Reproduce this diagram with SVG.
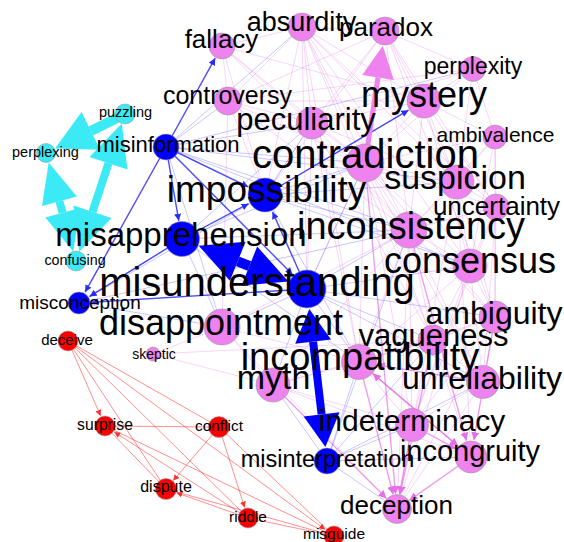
<svg xmlns="http://www.w3.org/2000/svg" width="564" height="542" viewBox="0 0 564 542">
<defs>
<style>
.pe line{stroke:#e27ee2;stroke-opacity:.32;stroke-width:1}
.pa line{stroke:#e66ee6;stroke-opacity:.7;stroke-width:1.3}
.be line{stroke:#6a5cff;stroke-opacity:.35;stroke-width:1}
.bs line{stroke:#2a2aff;stroke-opacity:.85;stroke-width:1.4}
.re line{stroke:#ff2020;stroke-opacity:.5;stroke-width:1}
.big{fill:#0000ff}
.bigs{stroke:#0000ff}
.cyb{fill:#3ceaf5}
.cys{stroke:#3ceaf5}
circle{stroke:#999;stroke-width:.6}
.pk{fill:#ee82ee}
.bl{fill:#0000ff}
.cy{fill:#3ceaf5}
.rd{fill:#ff0000}
text{font-family:"Liberation Sans",Arial,sans-serif;text-anchor:middle;fill:#000}
</style>
<marker id="mb" viewBox="0 0 10 10" refX="10" refY="5" markerWidth="7" markerHeight="7" markerUnits="userSpaceOnUse" orient="auto"><path d="M0,0L10,5L0,10z" fill="#2a2aff"/></marker>
<marker id="mp" viewBox="0 0 10 10" refX="10" refY="5" markerWidth="8" markerHeight="8" markerUnits="userSpaceOnUse" orient="auto"><path d="M0,0L10,5L0,10z" fill="#e66ee6"/></marker>
<marker id="mr" viewBox="0 0 10 10" refX="10" refY="5" markerWidth="6" markerHeight="6" markerUnits="userSpaceOnUse" orient="auto"><path d="M0,0L10,5L0,10z" fill="#ff3030"/></marker>
</defs>
<rect width="564" height="542" fill="#fff"/>
<g id="edges">
<g class="pe">
<line x1="302" y1="27" x2="222" y2="46"/><line x1="302" y1="27" x2="385" y2="31"/><line x1="302" y1="27" x2="228" y2="101"/><line x1="302" y1="27" x2="312" y2="123"/><line x1="302" y1="27" x2="365" y2="163"/><line x1="302" y1="27" x2="409" y2="230"/><line x1="302" y1="27" x2="457" y2="182"/><line x1="302" y1="27" x2="424" y2="101"/><line x1="302" y1="27" x2="359" y2="362"/><line x1="302" y1="27" x2="470" y2="266"/><line x1="302" y1="27" x2="433" y2="340"/><line x1="302" y1="27" x2="496" y2="207"/><line x1="302" y1="27" x2="265" y2="195"/><line x1="302" y1="27" x2="307" y2="289"/>
<line x1="222" y1="46" x2="228" y2="101"/><line x1="222" y1="46" x2="312" y2="123"/><line x1="222" y1="46" x2="365" y2="163"/><line x1="222" y1="46" x2="424" y2="101"/><line x1="222" y1="46" x2="409" y2="230"/><line x1="222" y1="46" x2="265" y2="195"/>
<line x1="385" y1="31" x2="473" y2="69"/><line x1="385" y1="31" x2="424" y2="101"/><line x1="385" y1="31" x2="312" y2="123"/><line x1="385" y1="31" x2="228" y2="101"/><line x1="385" y1="31" x2="409" y2="230"/><line x1="385" y1="31" x2="457" y2="182"/><line x1="385" y1="31" x2="496" y2="207"/><line x1="385" y1="31" x2="495" y2="317"/><line x1="385" y1="31" x2="265" y2="195"/>
<line x1="473" y1="69" x2="424" y2="101"/><line x1="473" y1="69" x2="365" y2="163"/><line x1="473" y1="69" x2="457" y2="182"/><line x1="473" y1="69" x2="312" y2="123"/><line x1="473" y1="69" x2="228" y2="101"/><line x1="473" y1="69" x2="495" y2="137"/>
<line x1="424" y1="101" x2="312" y2="123"/><line x1="424" y1="101" x2="365" y2="163"/><line x1="424" y1="101" x2="457" y2="182"/><line x1="424" y1="101" x2="495" y2="137"/><line x1="424" y1="101" x2="409" y2="230"/><line x1="424" y1="101" x2="496" y2="207"/><line x1="424" y1="101" x2="228" y2="101"/><line x1="424" y1="101" x2="470" y2="266"/>
<line x1="228" y1="101" x2="312" y2="123"/><line x1="228" y1="101" x2="365" y2="163"/><line x1="228" y1="101" x2="409" y2="230"/><line x1="228" y1="101" x2="222" y2="327"/><line x1="228" y1="101" x2="265" y2="195"/>
<line x1="312" y1="123" x2="365" y2="163"/><line x1="312" y1="123" x2="409" y2="230"/><line x1="312" y1="123" x2="457" y2="182"/><line x1="312" y1="123" x2="359" y2="362"/><line x1="312" y1="123" x2="433" y2="340"/><line x1="312" y1="123" x2="265" y2="195"/><line x1="312" y1="123" x2="307" y2="289"/>
<line x1="495" y1="137" x2="457" y2="182"/><line x1="495" y1="137" x2="496" y2="207"/><line x1="495" y1="137" x2="365" y2="163"/><line x1="495" y1="137" x2="470" y2="266"/><line x1="495" y1="137" x2="495" y2="317"/><line x1="495" y1="137" x2="409" y2="230"/>
<line x1="365" y1="163" x2="457" y2="182"/><line x1="365" y1="163" x2="409" y2="230"/><line x1="365" y1="163" x2="359" y2="362"/><line x1="365" y1="163" x2="470" y2="266"/><line x1="365" y1="163" x2="495" y2="317"/><line x1="365" y1="163" x2="433" y2="340"/><line x1="365" y1="163" x2="496" y2="207"/><line x1="365" y1="163" x2="412" y2="425"/><line x1="365" y1="163" x2="483" y2="382"/><line x1="365" y1="163" x2="307" y2="289"/>
<line x1="457" y1="182" x2="496" y2="207"/><line x1="457" y1="182" x2="409" y2="230"/><line x1="457" y1="182" x2="470" y2="266"/><line x1="457" y1="182" x2="397" y2="509"/><line x1="457" y1="182" x2="471" y2="457"/><line x1="457" y1="182" x2="495" y2="317"/>
<line x1="496" y1="207" x2="409" y2="230"/><line x1="496" y1="207" x2="470" y2="266"/><line x1="496" y1="207" x2="495" y2="317"/><line x1="496" y1="207" x2="483" y2="382"/><line x1="496" y1="207" x2="412" y2="425"/>
<line x1="409" y1="230" x2="470" y2="266"/><line x1="409" y1="230" x2="359" y2="362"/><line x1="409" y1="230" x2="433" y2="340"/><line x1="409" y1="230" x2="495" y2="317"/><line x1="409" y1="230" x2="483" y2="382"/><line x1="409" y1="230" x2="412" y2="425"/><line x1="409" y1="230" x2="397" y2="509"/><line x1="409" y1="230" x2="273" y2="385"/><line x1="409" y1="230" x2="222" y2="327"/>
<line x1="470" y1="266" x2="495" y2="317"/><line x1="470" y1="266" x2="433" y2="340"/><line x1="470" y1="266" x2="359" y2="362"/><line x1="470" y1="266" x2="483" y2="382"/><line x1="470" y1="266" x2="412" y2="425"/><line x1="470" y1="266" x2="397" y2="509"/>
<line x1="495" y1="317" x2="433" y2="340"/><line x1="495" y1="317" x2="483" y2="382"/><line x1="495" y1="317" x2="412" y2="425"/><line x1="495" y1="317" x2="359" y2="362"/><line x1="495" y1="317" x2="397" y2="509"/>
<line x1="433" y1="340" x2="359" y2="362"/><line x1="433" y1="340" x2="483" y2="382"/><line x1="433" y1="340" x2="412" y2="425"/><line x1="433" y1="340" x2="471" y2="457"/><line x1="433" y1="340" x2="273" y2="385"/>
<line x1="359" y1="362" x2="273" y2="385"/><line x1="359" y1="362" x2="412" y2="425"/><line x1="359" y1="362" x2="222" y2="327"/>
<line x1="222" y1="327" x2="273" y2="385"/><line x1="222" y1="327" x2="153" y2="354"/><line x1="222" y1="327" x2="397" y2="509"/>
<line x1="273" y1="385" x2="412" y2="425"/><line x1="273" y1="385" x2="471" y2="457"/>
<line x1="483" y1="382" x2="412" y2="425"/><line x1="483" y1="382" x2="397" y2="509"/>
<line x1="153" y1="354" x2="433" y2="340"/><line x1="153" y1="354" x2="273" y2="385"/>
</g>
<g class="pa">
<line x1="359" y1="362" x2="393.2" y2="494.5" marker-end="url(#mp)"/>
<line x1="412" y1="425" x2="399.6" y2="494.2" marker-end="url(#mp)"/>
<line x1="433" y1="340" x2="400.1" y2="494.3" marker-end="url(#mp)"/>
<line x1="365" y1="163" x2="395.6" y2="494.1" marker-end="url(#mp)"/>
<line x1="273" y1="385" x2="386.4" y2="498.4" marker-end="url(#mp)"/>
<line x1="471" y1="457" x2="409.3" y2="500.4" marker-end="url(#mp)"/>
<line x1="412" y1="425" x2="456.1" y2="448.9" marker-end="url(#mp)"/>
<line x1="359" y1="362" x2="458" y2="446" marker-end="url(#mp)"/>
<line x1="409" y1="230" x2="466.5" y2="440.6" marker-end="url(#mp)"/>
<line x1="495" y1="317" x2="473.9" y2="440.2" marker-end="url(#mp)"/>
<line x1="471" y1="457" x2="372.7" y2="373.6" marker-end="url(#mp)"/>
<line x1="483" y1="382" x2="376.8" y2="364.9" marker-end="url(#mp)"/>
</g>
<g class="be">
<line x1="166" y1="147" x2="365" y2="163"/><line x1="166" y1="147" x2="312" y2="123"/><line x1="166" y1="147" x2="228" y2="101"/><line x1="166" y1="147" x2="302" y2="27"/><line x1="166" y1="147" x2="473" y2="69"/><line x1="166" y1="147" x2="457" y2="182"/><line x1="166" y1="147" x2="409" y2="230"/><line x1="166" y1="147" x2="470" y2="266"/><line x1="166" y1="147" x2="222" y2="327"/>
<line x1="265" y1="195" x2="365" y2="163"/><line x1="265" y1="195" x2="409" y2="230"/><line x1="265" y1="195" x2="312" y2="123"/><line x1="265" y1="195" x2="470" y2="266"/><line x1="265" y1="195" x2="457" y2="182"/><line x1="265" y1="195" x2="359" y2="362"/>
<line x1="182" y1="239" x2="365" y2="163"/><line x1="182" y1="239" x2="409" y2="230"/><line x1="182" y1="239" x2="312" y2="123"/><line x1="182" y1="239" x2="222" y2="327"/><line x1="182" y1="239" x2="359" y2="362"/>
<line x1="307" y1="289" x2="409" y2="230"/><line x1="307" y1="289" x2="470" y2="266"/><line x1="307" y1="289" x2="495" y2="317"/><line x1="307" y1="289" x2="433" y2="340"/><line x1="307" y1="289" x2="359" y2="362"/><line x1="307" y1="289" x2="222" y2="327"/><line x1="307" y1="289" x2="365" y2="163"/><line x1="307" y1="289" x2="273" y2="385"/><line x1="307" y1="289" x2="483" y2="382"/>
<line x1="79" y1="303" x2="222" y2="327"/><line x1="79" y1="303" x2="265" y2="195"/><line x1="79" y1="303" x2="182" y2="239"/><line x1="79" y1="303" x2="409" y2="230"/>
<line x1="327" y1="461" x2="397" y2="509"/><line x1="327" y1="461" x2="471" y2="457"/><line x1="327" y1="461" x2="412" y2="425"/><line x1="327" y1="461" x2="359" y2="362"/><line x1="327" y1="461" x2="273" y2="385"/><line x1="327" y1="461" x2="433" y2="340"/><line x1="327" y1="461" x2="483" y2="382"/><line x1="327" y1="461" x2="409" y2="230"/>
<line x1="265" y1="195" x2="424" y2="101"/>
</g>
<g class="bs">
<line x1="166" y1="147" x2="178.8" y2="220.8" marker-end="url(#mb)"/>
<line x1="166" y1="147" x2="248.3" y2="186.9" marker-end="url(#mb)"/>
<line x1="166" y1="147" x2="292.5" y2="274.4" marker-end="url(#mb)"/>
<line x1="166" y1="147" x2="85.1" y2="292.1" marker-end="url(#mb)"/>
<line x1="166" y1="147" x2="215.2" y2="58.2" marker-end="url(#mb)"/>
<line x1="182" y1="239" x2="248.6" y2="203.7" marker-end="url(#mb)"/>
<line x1="307" y1="289" x2="272.5" y2="211.9" marker-end="url(#mb)"/>
<line x1="182" y1="239" x2="89.6" y2="296.4" marker-end="url(#mb)"/>
<line x1="265" y1="195" x2="408.5" y2="110.2" marker-end="url(#mb)"/>
<line x1="307" y1="289" x2="91.5" y2="302.2" marker-end="url(#mb)"/>
</g>
<g class="re">
<line x1="68" y1="341" x2="100.6" y2="415.9" marker-end="url(#mr)"/>
<line x1="68" y1="341" x2="219" y2="427"/><line x1="68" y1="341" x2="166" y2="489"/><line x1="68" y1="341" x2="248" y2="518"/>
<line x1="68" y1="341" x2="325.1" y2="529.5" marker-end="url(#mr)"/>
<line x1="105" y1="426" x2="219" y2="427"/><line x1="105" y1="426" x2="166" y2="489"/><line x1="105" y1="426" x2="334" y2="536"/>
<line x1="219" y1="427" x2="173.2" y2="480.6" marker-end="url(#mr)"/>
<line x1="219" y1="427" x2="244.7" y2="507.5" marker-end="url(#mr)"/>
<line x1="219" y1="427" x2="334" y2="536"/>
<line x1="248" y1="518" x2="114.3" y2="432" marker-end="url(#mr)"/>
<line x1="248" y1="518" x2="176.4" y2="492.7" marker-end="url(#mr)"/>
<line x1="166" y1="489" x2="334" y2="536"/><line x1="248" y1="518" x2="334" y2="536"/>
</g>
<g id="big-arrows">
<line class="cys" x1="125" y1="114" x2="90.9" y2="130.9" stroke-width="10"/>
<polygon class="cyb" points="55,148.6 100.2,149.7 81.6,112.1"/>
<line class="cys" x1="59.4" y1="201.2" x2="62.6" y2="212.8" stroke-width="8"/>
<polygon class="cyb" points="48.7,162.6 76.8,196.4 42,206"/>
<polygon class="cyb" points="73.3,251.4 79.9,208 45.3,217.6"/>
<line class="cys" x1="108.5" y1="163.3" x2="92.5" y2="211.7" stroke-width="8"/>
<polygon class="cyb" points="121.8,123.5 127.5,169.6 89.5,157"/>
<polygon class="cyb" points="79.2,251.5 111.5,218 73.5,205.4"/>
<line x1="365" y1="163" x2="378" y2="77.5" stroke="#ee82ee" stroke-width="5"/>
<polygon fill="#ee82ee" points="382.8,45.8 393.8,79.9 362.2,75.1"/>
<line class="bigs" x1="237.7" y1="261.3" x2="249.4" y2="266" stroke-width="10"/>
<polygon class="big" points="198.7,245.7 229.9,280.8 245.5,241.8"/>
<polygon class="big" points="288.4,281.6 241.6,285.5 257.2,246.5"/>
<line class="bigs" x1="313.1" y1="341.7" x2="321.6" y2="414.3" stroke-width="8"/>
<polygon class="big" points="309.3,308.9 295.2,343.8 331,339.6"/>
<polygon class="big" points="325.4,447.1 303.7,416.4 339.5,412.2"/>
</g>
</g>
<g id="node-skeptic"><circle class="pk" cx="153" cy="354" r="7"/><text x="154" y="359" font-size="14">skeptic</text></g>
<g id="node-confusing"><circle class="cy" cx="76" cy="261" r="10"/><text x="75" y="265" font-size="14.3">confusing</text></g>
<g id="node-puzzling"><circle class="cy" cx="125" cy="114" r="10"/><text x="125.5" y="117" font-size="14.5">puzzling</text></g>
<g id="node-perplexing"><circle class="cy" cx="46" cy="153" r="9.5"/><text x="45.5" y="157" font-size="14.5">perplexing</text></g>
<g id="node-deceive"><circle class="rd" cx="68" cy="341" r="10"/><text x="67" y="345" font-size="15">deceive</text></g>
<g id="node-conflict"><circle class="rd" cx="219" cy="427" r="10.5"/><text x="219" y="431" font-size="15.4">conflict</text></g>
<g id="node-riddle"><circle class="rd" cx="248" cy="518" r="10"/><text x="248" y="522" font-size="15.5">riddle</text></g>
<g id="node-misguide"><circle class="rd" cx="334" cy="536" r="10"/><text x="334" y="539" font-size="15.5">misguide</text></g>
<g id="node-surprise"><circle class="rd" cx="105" cy="426" r="10"/><text x="105" y="430" font-size="15.7">surprise</text></g>
<g id="node-dispute"><circle class="rd" cx="166" cy="489" r="10.5"/><text x="166" y="492" font-size="16">dispute</text></g>
<g id="node-misconception"><circle class="bl" cx="79" cy="303" r="11"/><text x="80" y="309" font-size="19">misconception</text></g>
<g id="node-ambivalence"><circle class="pk" cx="495" cy="137" r="12"/><text x="495.5" y="142" font-size="21">ambivalence</text></g>
<g id="node-misinformation"><circle class="bl" cx="166" cy="147" r="13"/><text x="168" y="152" font-size="22">misinformation</text></g>
<g id="node-perplexity"><circle class="pk" cx="473" cy="69" r="12.5"/><text x="473" y="74" font-size="23">perplexity</text></g>
<g id="node-misinterpretation"><circle class="bl" cx="327" cy="461" r="13"/><text x="327.5" y="467" font-size="23.5">misinterpretation</text></g>
<g id="node-controversy"><circle class="pk" cx="228" cy="101" r="14"/><text x="227.5" y="104" font-size="25">controversy</text></g>
<g id="node-fallacy"><circle class="pk" cx="222" cy="46" r="13"/><text x="221.5" y="48" font-size="26">fallacy</text></g>
<g id="node-paradox"><circle class="pk" cx="385" cy="31" r="14"/><text x="386" y="36" font-size="26">paradox</text></g>
<g id="node-deception"><circle class="pk" cx="397" cy="509" r="14.5"/><text x="396.5" y="514" font-size="26">deception</text></g>
<g id="node-uncertainty"><circle class="pk" cx="496" cy="207" r="13"/><text x="496.5" y="215" font-size="26">uncertainty</text></g>
<g id="node-absurdity"><circle class="pk" cx="302" cy="27" r="14"/><text x="301.5" y="31" font-size="27">absurdity</text></g>
<g id="node-incongruity"><circle class="pk" cx="471" cy="457" r="16"/><text x="470" y="461" font-size="29">incongruity</text></g>
<g id="node-indeterminacy"><circle class="pk" cx="412" cy="425" r="16.5"/><text x="412" y="431" font-size="30">indeterminacy</text></g>
<g id="node-peculiarity"><circle class="pk" cx="312" cy="123" r="16"/><text x="306" y="130" font-size="31">peculiarity</text></g>
<g id="node-vagueness"><circle class="pk" cx="433" cy="340" r="15"/><text x="433.5" y="346" font-size="31">vagueness</text></g>
<g id="node-ambiguity"><circle class="pk" cx="495" cy="317" r="16"/><text x="494" y="324" font-size="32">ambiguity</text></g>
<g id="node-unreliability"><circle class="pk" cx="483" cy="382" r="16.5"/><text x="482" y="389" font-size="32">unreliability</text></g>
<g id="node-misapprehension"><circle class="bl" cx="182" cy="239" r="17.5"/><text x="181" y="246" font-size="33">misapprehension</text></g>
<g id="node-myth"><circle class="pk" cx="273" cy="385" r="17"/><text x="273.5" y="389" font-size="34">myth</text></g>
<g id="node-suspicion"><circle class="pk" cx="457" cy="182" r="17"/><text x="455" y="189" font-size="34">suspicion</text></g>
<g id="node-mystery"><circle class="pk" cx="424" cy="101" r="17"/><text x="424" y="107" font-size="36">mystery</text></g>
<g id="node-consensus"><circle class="pk" cx="470" cy="266" r="17"/><text x="470" y="273" font-size="36">consensus</text></g>
<g id="node-disappointment"><circle class="pk" cx="222" cy="327" r="18"/><text x="221" y="335" font-size="36">disappointment</text></g>
<g id="node-inconsistency"><circle class="pk" cx="409" cy="230" r="18"/><text x="411" y="239" font-size="38">inconsistency</text></g>
<g id="node-incompatibility"><circle class="pk" cx="359" cy="362" r="17.5"/><text x="360" y="370" font-size="38">incompatibility</text></g>
<g id="node-contradiction"><circle class="pk" cx="365" cy="163" r="19"/><text x="365.5" y="168" font-size="40">contradiction</text></g>
<g id="node-impossibility"><circle class="bl" cx="265" cy="195" r="17"/><text x="266.5" y="202" font-size="37">impossibility</text></g>
<g id="node-misunderstanding"><circle class="bl" cx="307" cy="289" r="19"/><text x="257" y="296" font-size="40">misunderstanding</text></g>
</svg>
